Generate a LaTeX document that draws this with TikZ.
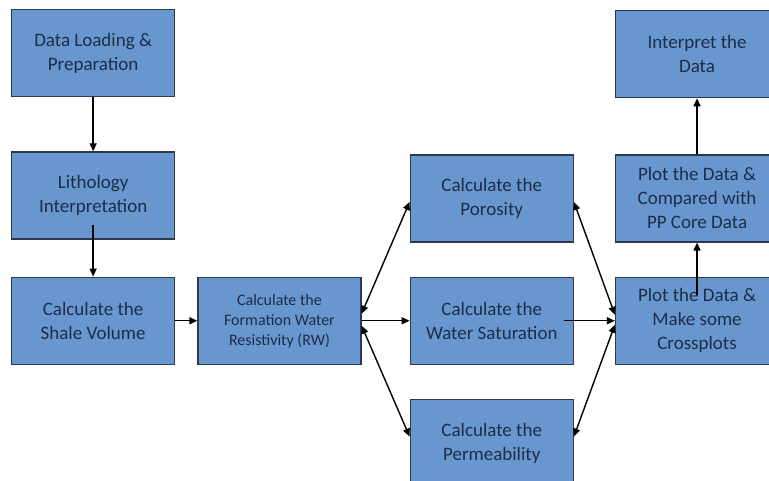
\documentclass[tikz,border=0pt]{standalone}
\usepackage{fontspec}
\setmainfont{Carlito}
\usepackage{xcolor}
\usetikzlibrary{arrows.meta,positioning}
\definecolor{boxblue}{RGB}{104,151,207}
\definecolor{boxline}{RGB}{45,58,78}
\definecolor{boxtext}{RGB}{30,45,72}
\begin{document}
\begin{tikzpicture}[>={Triangle[length=8pt,width=7pt]},
  stepbox/.style={draw=boxline,line width=1.3pt,fill=boxblue,text=boxtext,
    minimum width=163pt,minimum height=87pt,align=center,
    font=\fontsize{19}{24}\selectfont},
  link/.style={line width=1.4pt,draw=black}]
  \path[use as bounding box,clip] (0,0) rectangle (769pt,-481pt);
  \node[stepbox,anchor=north west] (load) at (11pt,-9pt) {Data Loading \&\\Preparation};
  \node[stepbox,below=54pt of load] (litho) {Lithology\\Interpretation};
  \node[stepbox,below=37pt of litho] (vsh) {Calculate the\\Shale Volume};
  \node[stepbox,right=22pt of vsh,font=\fontsize{16}{20}\selectfont] (rw) {Calculate the\\Formation Water\\Resistivity (RW)};
  \node[stepbox,right=48pt of rw] (sw) {Calculate the\\Water Saturation};
  \node[stepbox,above=34pt of sw] (phi) {Calculate the\\Porosity};
  \node[stepbox,below=34pt of sw] (perm) {Calculate the\\Permeability};
  \node[stepbox,right=41pt of sw] (xplot) {Plot the Data \&\\Make some\\Crossplots};
  \node[stepbox,above=34pt of xplot] (core) {Plot the Data \&\\Compared with\\PP Core Data};
  \node[stepbox,above=56pt of core] (interp) {Interpret the\\Data};
  \draw[link,->] (load) -- (litho);
  \draw[link,->] ([yshift=15pt]litho.south) -- (vsh.north);
  \draw[link,->] (vsh) -- (rw);
  \draw[link,<->] ([yshift=7pt]rw.east) -- ([yshift=-3.5pt]phi.west);
  \draw[link,->] (rw.east) -- (sw.west);
  \draw[link,<->] ([yshift=-5pt]rw.east) -- ([yshift=6.5pt]perm.west);
  \draw[link,<->] ([yshift=-3.5pt]phi.east) -- ([yshift=6pt]xplot.west);
  \draw[link,->] ([xshift=-10pt]sw.east) -- (xplot.west);
  \draw[link,<->] ([yshift=6.5pt]perm.east) -- ([yshift=-4pt]xplot.west);
  \draw[link,->] ([yshift=-18pt]xplot.north) -- (core.south);
  \draw[link,->] (core) -- (interp);
\end{tikzpicture}
\end{document}
